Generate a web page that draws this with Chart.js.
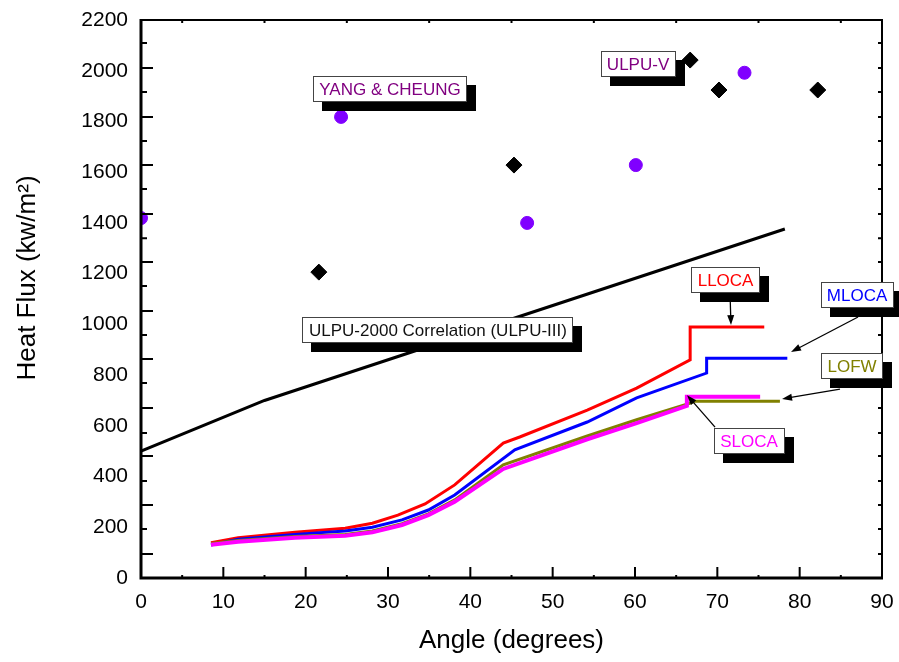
<!DOCTYPE html>
<html>
<head>
<meta charset="utf-8">
<script src="https://cdn.jsdelivr.net/npm/chart.js@4.4.0/dist/chart.umd.min.js"></script>
<style>
  html, body { margin: 0; background: #fff; }
</style>
</head>
<body>
<canvas id="heatFluxChart" width="899" height="662"></canvas>
<script>
// measured points (angle in degrees, heat flux in kW/m2)
const yangCheung = [[0, 1419], [24.3, 1818], [46.9, 1400], [60.1, 1628], [73.3, 1992]];
const ulpuV = [[21.6, 1206], [45.3, 1628], [66.7, 2042], [70.2, 1924], [82.2, 1924]];

// ULPU-2000 correlation line
const ulpuCorrelation = [[0, 500], [15, 700], [78.2, 1376]];

// accident scenario curves
const lloca = [[8.5, 139], [11.8, 159], [18.7, 180], [24.8, 196], [28.1, 216], [31.2, 248], [34.5, 292],
  [38.1, 367], [44.0, 532], [46.0, 556], [54.2, 662], [60.2, 749], [66.7, 860], [66.7, 990], [75.7, 990]];
const mloca = [[8.5, 130], [11.8, 153], [18.7, 172], [24.8, 185], [28.1, 200], [31.7, 229], [34.9, 268],
  [38.1, 327], [45.4, 505], [54.2, 615], [60.2, 710], [68.7, 808], [68.7, 866], [78.5, 866]];
const lofw = [[8.5, 136], [11.8, 148], [18.7, 164], [24.8, 172], [28.1, 185], [31.7, 214], [34.9, 253],
  [38.1, 308], [44.0, 446], [54.2, 560], [60.2, 624], [66.3, 685], [67.3, 697], [77.6, 697]];
const sloca = [[8.5, 131], [11.8, 143], [18.7, 159], [24.8, 167], [28.1, 180], [31.7, 209], [34.9, 248],
  [38.1, 301], [44.0, 430], [54.2, 547], [60.2, 611], [66.3, 679], [66.3, 715], [75.2, 715]];

// axis tick marks (the original's y tick marks do not line up with its labels)
const xLongMarks = [10, 20, 30, 40, 50, 60, 70, 80];
const xShortMarks = [5, 15, 25, 35, 45, 55, 65, 75, 85];
const yLongMarks = [95, 288, 481, 670, 863, 1053, 1246, 1435, 1628, 1818, 2011];
const yShortMarks = [193, 382, 572, 769, 958, 1151, 1340, 1534, 1723, 1916, 2109];

const FONT = '"Liberation Sans", Arial, sans-serif';

// text boxes with drop shadows, placed in data units
const notes = [
  { text: 'YANG & CHEUNG', color: '#800080', at: [30.24, 1928] },
  { text: 'ULPU-V', color: '#800080', at: [60.37, 2026] },
  { text: 'ULPU-2000 Correlation (ULPU-III)', color: '#111', at: [36.07, 976] },
  { text: 'LLOCA', color: '#ff0000', at: [71.0, 1175], arrow: [[71.54, 1123], [71.66, 997]] },
  { text: 'MLOCA', color: '#0000ff', at: [86.97, 1114], arrow: [[87.09, 1029], [78.95, 891]] },
  { text: 'LOFW', color: '#808000', at: [86.36, 834], arrow: [[84.9, 745], [77.86, 706]] },
  { text: 'SLOCA', color: '#ff00ff', at: [73.85, 540], arrow: [[69.72, 595], [66.32, 721]] }
];

const toXY = arr => arr.map(([x, y]) => ({ x, y }));

function curve(data, color, width) {
  return {
    data: toXY(data),
    showLine: true,
    borderColor: color,
    borderWidth: width,
    pointRadius: 0,
    tension: 0,
    fill: false
  };
}

function arrow(ctx, x1, y1, x2, y2) {
  const a = Math.atan2(y2 - y1, x2 - x1);
  ctx.strokeStyle = '#000';
  ctx.lineWidth = 1.3;
  ctx.beginPath();
  ctx.moveTo(x1, y1);
  ctx.lineTo(x2 - 6 * Math.cos(a), y2 - 6 * Math.sin(a));
  ctx.stroke();
  ctx.fillStyle = '#000';
  ctx.beginPath();
  ctx.moveTo(x2, y2);
  ctx.lineTo(x2 - 10 * Math.cos(a) + 3.5 * Math.sin(a), y2 - 10 * Math.sin(a) - 3.5 * Math.cos(a));
  ctx.lineTo(x2 - 10 * Math.cos(a) - 3.5 * Math.sin(a), y2 - 10 * Math.sin(a) + 3.5 * Math.cos(a));
  ctx.closePath();
  ctx.fill();
}

const framePlugin = {
  id: 'frame',
  afterDatasetsDraw(chart) {
    const { ctx, chartArea: a, scales: { x, y } } = chart;
    ctx.save();
    ctx.strokeStyle = '#000';
    // ticks pointing inwards
    ctx.lineWidth = 2;
    ctx.beginPath();
    xLongMarks.forEach(v => { const px = x.getPixelForValue(v); ctx.moveTo(px, a.bottom); ctx.lineTo(px, a.bottom - 11); });
    xShortMarks.forEach(v => {
      const px = x.getPixelForValue(v);
      ctx.moveTo(px, a.bottom); ctx.lineTo(px, a.bottom - 3);
      ctx.moveTo(px, a.top); ctx.lineTo(px, a.top + 3);
    });
    yLongMarks.forEach(v => {
      const py = y.getPixelForValue(v);
      ctx.moveTo(a.left, py); ctx.lineTo(a.left + 12, py);
      ctx.moveTo(a.right, py); ctx.lineTo(a.right - 4, py);
    });
    yShortMarks.forEach(v => {
      const py = y.getPixelForValue(v);
      ctx.moveTo(a.left, py); ctx.lineTo(a.left + 6, py);
      ctx.moveTo(a.right, py); ctx.lineTo(a.right - 4, py);
    });
    ctx.stroke();
    // frame
    ctx.lineWidth = 2;
    ctx.beginPath();
    ctx.moveTo(a.left, a.top); ctx.lineTo(a.right, a.top); ctx.lineTo(a.right, a.bottom);
    ctx.stroke();
    ctx.lineWidth = 3;
    ctx.beginPath();
    ctx.moveTo(a.left, a.top - 1); ctx.lineTo(a.left, a.bottom); ctx.lineTo(a.right + 1, a.bottom);
    ctx.stroke();
    ctx.restore();
  },
  afterDraw(chart) {
    const { ctx, scales: { x, y } } = chart;
    ctx.save();
    ctx.font = '17px ' + FONT;
    ctx.textAlign = 'center';
    ctx.textBaseline = 'middle';
    notes.forEach(n => {
      const cx = x.getPixelForValue(n.at[0]);
      const cy = y.getPixelForValue(n.at[1]);
      const w = Math.round(ctx.measureText(n.text).width + 13), h = 26;
      const bx = Math.round(cx - w / 2), by = Math.round(cy - h / 2);
      ctx.fillStyle = '#000';
      ctx.fillRect(bx + 9, by + 9, w, h);
      ctx.fillStyle = '#fff';
      ctx.fillRect(bx, by, w, h);
      ctx.strokeStyle = '#444';
      ctx.lineWidth = 1;
      ctx.strokeRect(bx + 0.5, by + 0.5, w - 1, h - 1);
      ctx.fillStyle = n.color;
      ctx.fillText(n.text, cx, cy + 1);
      if (n.arrow) {
        const [p, q] = n.arrow;
        arrow(ctx, x.getPixelForValue(p[0]), y.getPixelForValue(p[1]), x.getPixelForValue(q[0]), y.getPixelForValue(q[1]));
      }
    });
    // y axis title
    ctx.translate(28, 278);
    ctx.rotate(-Math.PI / 2);
    ctx.font = '26px ' + FONT;
    ctx.fillStyle = '#000';
    ctx.fillText('Heat Flux (kw/m\u00b2)', 0, 0);
    ctx.restore();
  }
};

const ctx = document.getElementById('heatFluxChart').getContext('2d');
const heatFluxChart = new Chart(ctx, {
  type: 'scatter',
  data: {
    datasets: [
      {
        label: 'YANG & CHEUNG',
        data: toXY(yangCheung),
        pointStyle: 'circle',
        pointRadius: 6.5,
        pointBorderWidth: 1,
        backgroundColor: '#8000ff',
        borderColor: '#8000ff',
        clip: 0
      },
      {
        label: 'ULPU-V',
        data: toXY(ulpuV),
        pointStyle: 'rectRot',
        pointRadius: 8,
        pointBorderWidth: 1,
        backgroundColor: '#000',
        borderColor: '#000'
      },
      Object.assign({ label: 'SLOCA' }, curve(sloca, '#ff00ff', 4)),
      Object.assign({ label: 'LOFW' }, curve(lofw, '#808000', 3)),
      Object.assign({ label: 'MLOCA' }, curve(mloca, '#0000ff', 3)),
      Object.assign({ label: 'LLOCA' }, curve(lloca, '#ff0000', 3)),
      Object.assign({ label: 'ULPU-2000 Correlation' }, curve(ulpuCorrelation, '#000', 3))
    ]
  },
  options: {
    responsive: false,
    animation: false,
    layout: { padding: { top: 20, right: 17, bottom: 0, left: 0 } },
    plugins: {
      legend: { display: false },
      tooltip: { enabled: false }
    },
    scales: {
      x: {
        type: 'linear',
        min: 0,
        max: 90,
        // the gap under the axis comes from an undrawn tick length, so it does not pad the chart edges
        ticks: { stepSize: 10, padding: 0, color: '#000', font: { family: FONT, size: 21 }, callback: v => String(v) },
        grid: { display: false, drawTicks: true, tickLength: 12 },
        border: { display: false },
        title: {
          display: true,
          text: 'Angle (degrees)',
          color: '#000',
          font: { family: FONT, size: 26 },
          padding: { top: 0, bottom: 6 }
        },
        afterFit(s) { s.height = 84; }
      },
      y: {
        min: 0,
        max: 2200,
        ticks: { stepSize: 200, padding: 0, color: '#000', font: { family: FONT, size: 21 }, callback: v => String(v) },
        grid: { display: false, drawTicks: true, tickLength: 13 },
        border: { display: false },
        afterFit(s) { s.width = 141; }
      }
    }
  },
  plugins: [framePlugin]
});
</script>
</body>
</html>
